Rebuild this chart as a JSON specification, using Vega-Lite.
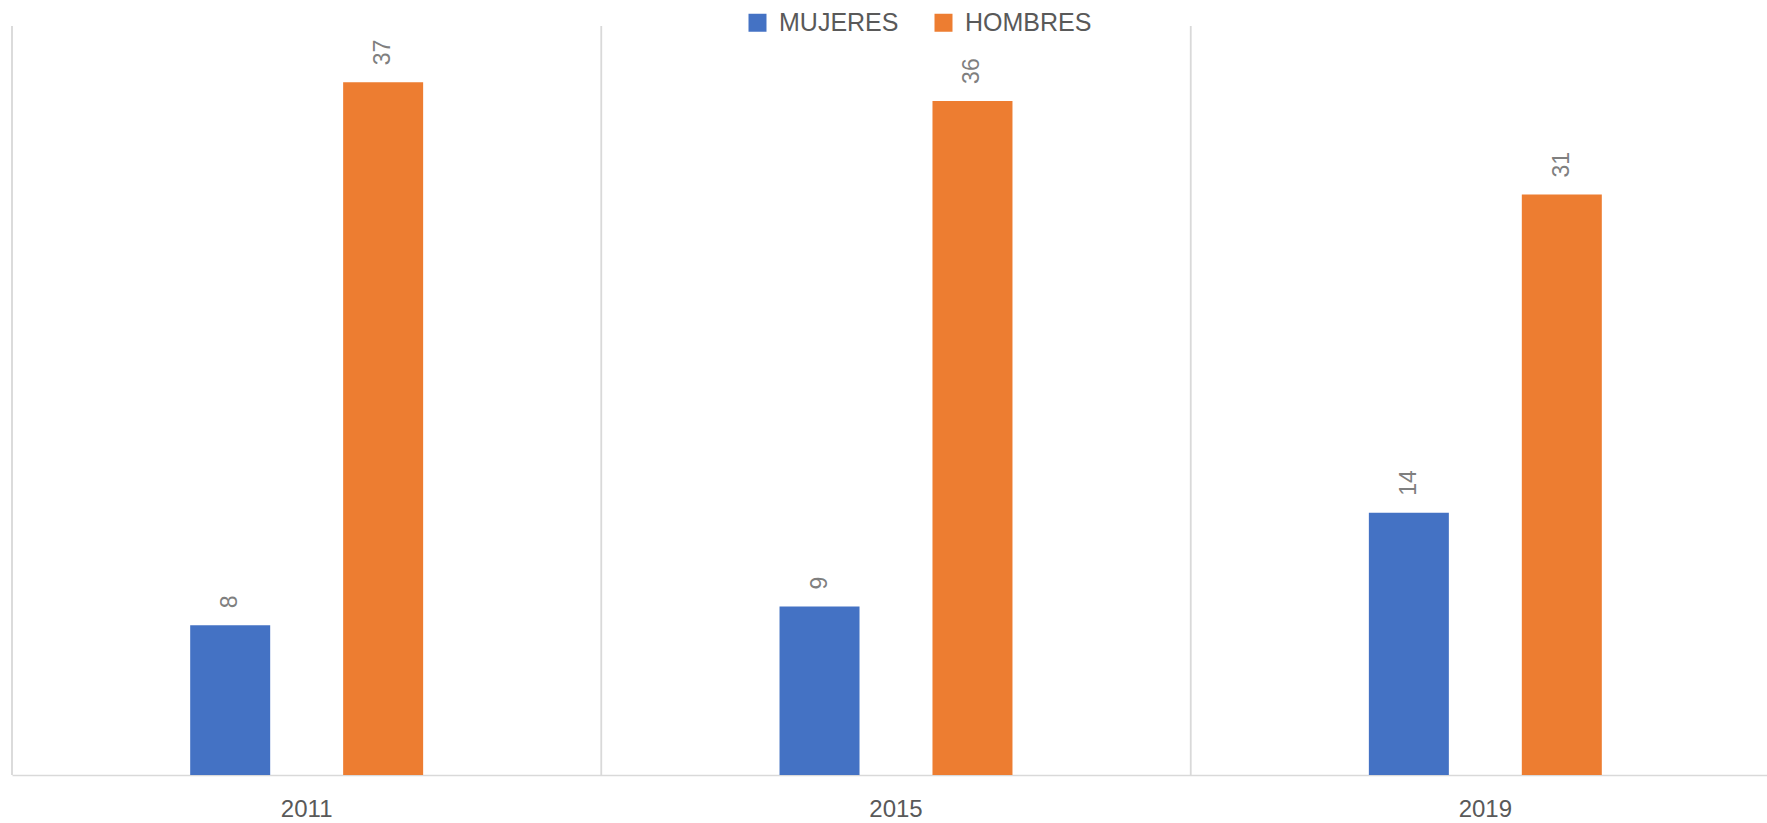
{
  "$schema": "https://vega.github.io/schema/vega-lite/v6.json",
  "autosize": "none",
  "width": 1768,
  "height": 749,
  "padding": {"left": 12, "top": 26, "right": 0, "bottom": 48},
  "background": "white",
  "config": {
    "view": {"stroke": null},
    "font": "Liberation Sans"
  },
  "data": {
    "values": [
      {"year": "2011", "sexo": "MUJERES", "valor": 8},
      {"year": "2011", "sexo": "HOMBRES", "valor": 37},
      {"year": "2015", "sexo": "MUJERES", "valor": 9},
      {"year": "2015", "sexo": "HOMBRES", "valor": 36},
      {"year": "2019", "sexo": "MUJERES", "valor": 14},
      {"year": "2019", "sexo": "HOMBRES", "valor": 31}
    ]
  },
  "encoding": {
    "x": {
      "field": "year",
      "type": "nominal",
      "title": null,
      "scale": {"paddingInner": 0, "paddingOuter": 0},
      "axis": {
        "grid": false,
        "ticks": false,
        "domain": true,
        "domainColor": "#d9d9d9",
        "domainWidth": 1.5,
        "labelAngle": 0,
        "labelFontSize": 24,
        "labelColor": "#595959",
        "labelPadding": 22
      }
    }
  },
  "layer": [
    {
      "mark": {"type": "rule", "color": "#d9d9d9", "strokeWidth": 1.5},
      "encoding": {
        "x": {"field": "year", "type": "nominal", "bandPosition": 0}
      }
    },
    {
      "mark": {"type": "bar", "width": 80},
      "encoding": {
        "xOffset": {
          "field": "sexo",
          "type": "nominal",
          "sort": ["MUJERES", "HOMBRES"],
          "scale": {"paddingInner": 0.147, "paddingOuter": 1}
        },
        "y": {
          "field": "valor",
          "type": "quantitative",
          "scale": {"domain": [0, 40], "nice": false},
          "axis": null
        },
        "color": {
          "field": "sexo",
          "type": "nominal",
          "scale": {"domain": ["MUJERES", "HOMBRES"], "range": ["#4472C4", "#ED7D31"]},
          "legend": {
            "title": null,
            "orient": "none",
            "direction": "horizontal",
            "legendX": 733,
            "legendY": -16,
            "padding": 0,
            "symbolType": "square",
            "symbolSize": 324,
            "symbolStrokeWidth": 0,
            "labelFontSize": 25,
            "labelColor": "#595959",
            "labelOffset": 9,
            "columnPadding": 32
          }
        }
      }
    },
    {
      "mark": {
        "type": "text",
        "angle": 270,
        "align": "left",
        "baseline": "middle",
        "dx": 17,
        "fontSize": 23,
        "color": "#7f7f7f"
      },
      "encoding": {
        "xOffset": {
          "field": "sexo",
          "type": "nominal",
          "sort": ["MUJERES", "HOMBRES"]
        },
        "y": {"field": "valor", "type": "quantitative"},
        "text": {"field": "valor", "type": "quantitative"}
      }
    }
  ]
}
